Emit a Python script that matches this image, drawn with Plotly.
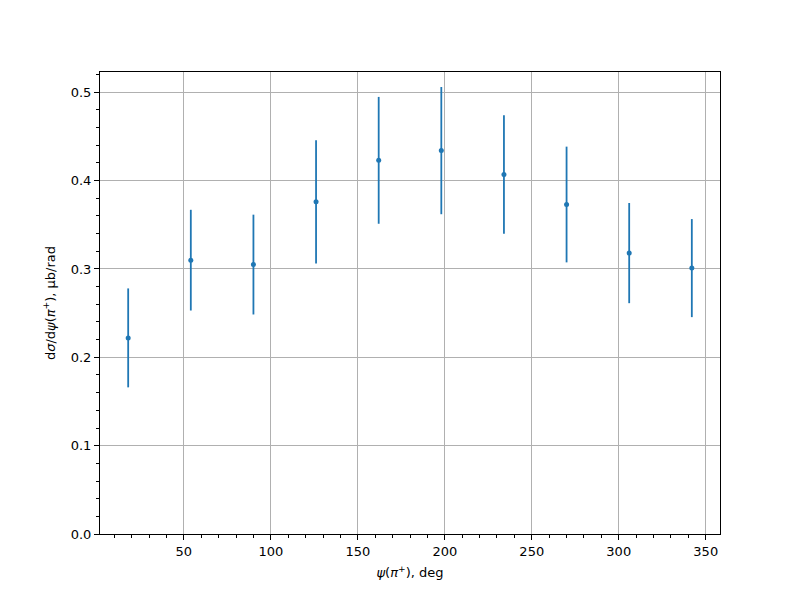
import plotly.graph_objects as go

psi_deg = [18, 54, 90, 126, 162, 198, 234, 270, 306, 342]
dsigma = [0.222, 0.310, 0.305, 0.376, 0.423, 0.434, 0.407, 0.373, 0.318, 0.301]
dsigma_err = [0.056, 0.057, 0.0565, 0.0697, 0.0718, 0.072, 0.067, 0.0655, 0.0567, 0.0555]

x_title = "<i>ψ</i>(<i>π</i><sup>+</sup>), deg"
y_title = "d<i>σ</i>/d<i>ψ</i>(<i>π</i><sup>+</sup>), μb/rad"

color = "#1f77b4"

fig = go.Figure()
fig.add_trace(go.Scatter(
    x=psi_deg, y=dsigma, mode="markers",
    marker=dict(color=color, size=5),
    error_y=dict(type="data", array=dsigma_err, visible=True,
                 color=color, thickness=1.8, width=0),
    showlegend=False,
))

xmin, xmax = min(psi_deg), max(psi_deg)
xpad = 0.05 * (xmax - xmin)
lo = min(v - e for v, e in zip(dsigma, dsigma_err))
hi = max(v + e for v, e in zip(dsigma, dsigma_err))
ytop = hi + 0.05 * (hi - lo)

axis_common = dict(
    showline=True, linecolor="black", linewidth=1.1, mirror=True,
    ticks="outside", ticklen=5, tickwidth=1.1, tickcolor="black",
    showgrid=True, gridcolor="#b0b0b0", gridwidth=1.1,
    zeroline=False,
    tickfont=dict(family="DejaVu Sans", size=13, color="black"),
)

fig.update_layout(
    width=800, height=600,
    margin=dict(l=92, r=88, t=64, b=74, pad=0),
    plot_bgcolor="white", paper_bgcolor="white",
    font=dict(family="DejaVu Sans", size=13, color="black"),
    xaxis=dict(
        range=[xmin - xpad, xmax + xpad], tick0=0, dtick=50,
        title=dict(text=x_title, font=dict(size=13), standoff=10),
        minor=dict(dtick=10, ticks="outside", ticklen=3, tickwidth=1, tickcolor="black", showgrid=False),
        **axis_common,
    ),
    yaxis=dict(
        range=[0, ytop], tick0=0, dtick=0.1, tickformat=".1f",
        title=dict(text=y_title, font=dict(size=13), standoff=12),
        minor=dict(dtick=0.02, ticks="outside", ticklen=3, tickwidth=1, tickcolor="black", showgrid=False),
        **axis_common,
    ),
)

fig.write_html("out.html")
